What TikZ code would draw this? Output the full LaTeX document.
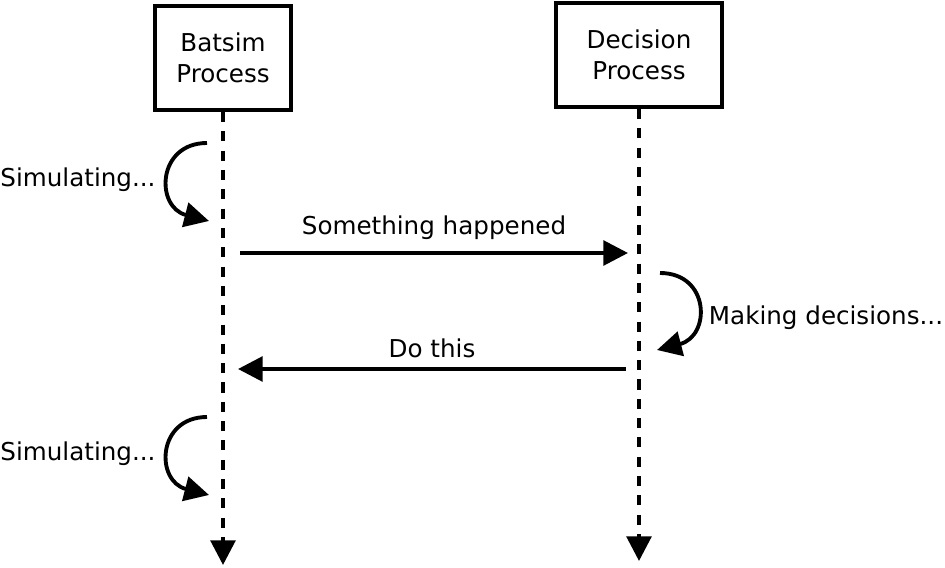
\documentclass[tikz,border=0pt]{standalone}
\usepackage{fontspec}
\setmainfont{DejaVu Sans}
\usetikzlibrary{arrows.meta, positioning}
\tikzset{
  >={Triangle[length=14pt, width=14pt]}, % big filled heads
  proc/.style={draw, line width=2.2pt, align=center, minimum height=2.08cm, inner sep=0pt},
  life/.style={->, line width=2.2pt, dash pattern=on 5.7pt off 5.3pt},
  msg/.style={->, line width=2.2pt},
  loop/.style={->, line width=2.2pt},
}

\begin{document}
\begin{tikzpicture}[x=0.02cm, y=-0.02cm, font=\fontsize{14}{17.5}\selectfont]
    \useasboundingbox (0,0) rectangle (945,567);

    % the two processes
    \node[proc, minimum width=2.72cm] (batsim) at (223,58) {Batsim\\Process};
    \node[proc, minimum width=3.32cm] (decision) at (639,55) {Decision\\Process};

    % lifelines
    \coordinate (batsimend) at (223,565);
    \coordinate (decisionend) at (639,561);
    \draw[life] (batsim) -- (batsimend);
    \draw[life] (decision) -- (decisionend);

    % loops on the lifelines
    \coordinate (sim1a) at (207,143);
    \coordinate (sim1b) at (209,221);
    \coordinate (sim2a) at (207,417);
    \coordinate (sim2b) at (209,495);
    \coordinate (deca) at (660,273);
    \coordinate (decb) at (657,350);

    \draw[loop] (sim1a) .. controls +(-50,0) and +(-54,-14) .. (sim1b);
    \draw[loop] (sim2a) .. controls +(-50,0) and +(-54,-14) .. (sim2b);
    \draw[loop] (deca) .. controls +(50,0) and +(54,-14) .. (decb);

    \node (sim1) at (78,180) {Simulating...};
    \node (sim2) at (78,454) {Simulating...};
    \node (dec) at (826,318) {Making decisions...};

    % messages
    \coordinate (happena) at (240,253);
    \coordinate (happenb) at (628,253);
    \coordinate (doa) at (626,369);
    \coordinate (dob) at (238,369);

    \draw[msg] (happena) -- node[above=3pt] (happen) {Something happened} (happenb);
    \draw[msg] (doa) -- node[above=2pt] (do) {Do this} (dob);

  \end{tikzpicture}
\end{document}
